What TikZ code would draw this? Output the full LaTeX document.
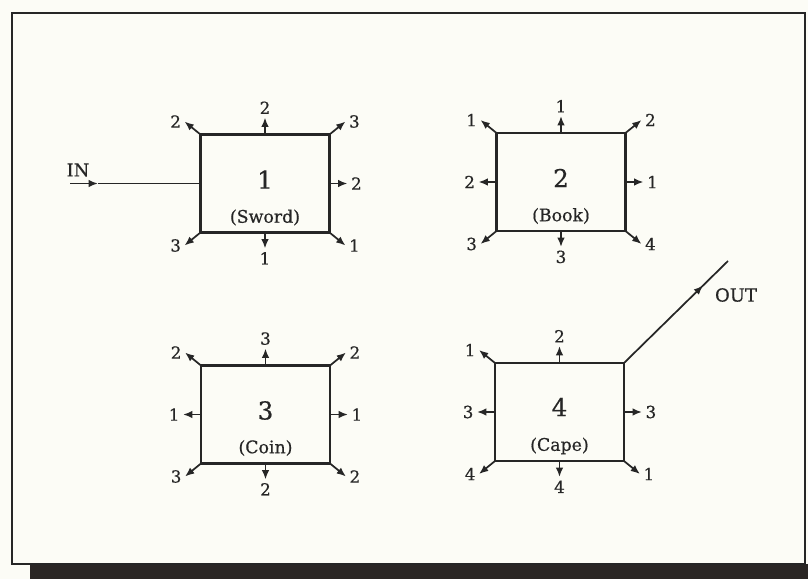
\documentclass[tikz,border=0pt]{standalone}
\usepackage{fontspec}
\setmainfont{DejaVu Serif}[FakeBold=0.6]
\usetikzlibrary{arrows.meta,calc,decorations.markings}
\definecolor{ink}{RGB}{38,38,38}
\definecolor{paper}{RGB}{252,252,246}
\definecolor{shadowcol}{RGB}{42,38,36}
\newcommand\stubarrow[6]{%
  \coordinate (#1#3) at ($(#1.#2)+(#4)$);
  \draw[stub] (#1.#2) -- (#1#3);
  \node[lbl,#5] (#1#3l) at (#1#3) {#6};}
\begin{document}
\begin{tikzpicture}[x=0.75pt,y=-0.75pt,
  box/.style={draw=ink,line width=1.6pt,minimum width=96.75pt,minimum height=73.5pt,inner sep=0pt,outer sep=0pt},
  stub/.style={draw=ink,line width=1.3pt,-{Latex[length=7pt,width=5.6pt]}},
  plain/.style={draw=ink,line width=1.3pt},
  lbl/.style={text=ink,font=\fontsize{12.5}{14}\selectfont,inner sep=2.5pt},
  bigdigit/.style={text=ink,font=\fontsize{18.5}{22}\selectfont},
  itemlbl/.style={text=ink,font=\fontsize{13}{15}\selectfont},
  io/.style={text=ink,font=\fontsize{13.5}{15}\selectfont}]
\useasboundingbox[fill=paper] (0,0) rectangle (808,579);
\fill[shadowcol] (30,564) rectangle (808,579);
\draw[ink,line width=2.2pt] (12,13) rectangle (805,564);

% boxes
\node[box] (b1) at (265,183.5) {};
\node[bigdigit] (d1) at (265,179.5) {1};
\node[itemlbl] (n1) at (265,217.5) {(Sword)};
\node[box] (b2) at (561,182) {};
\node[bigdigit] (d2) at (561,178) {2};
\node[itemlbl] (n2) at (561,216) {(Book)};
\node[box] (b3) at (265.5,414.5) {};
\node[bigdigit] (d3) at (265.5,410.5) {3};
\node[itemlbl] (n3) at (265.5,448) {(Coin)};
\node[box] (b4) at (559.5,412) {};
\node[bigdigit] (d4) at (559.5,407) {4};
\node[itemlbl] (n4) at (559.5,446) {(Cape)};

% box 1 exits
\stubarrow{b1}{north west}{nw}{-16,-13}{left}{2}
\stubarrow{b1}{north}{n}{0,-17}{above}{2}
\stubarrow{b1}{north east}{ne}{16,-13}{right}{3}
\stubarrow{b1}{east}{e}{18,0}{right}{2}
\stubarrow{b1}{south west}{sw}{-16,13}{left}{3}
\stubarrow{b1}{south}{s}{0,16}{below}{1}
\stubarrow{b1}{south east}{se}{16,13}{right}{1}
% box 2 exits
\stubarrow{b2}{north west}{nw}{-16,-13}{left}{1}
\stubarrow{b2}{north}{n}{0,-17}{above}{1}
\stubarrow{b2}{north east}{ne}{16,-13}{right}{2}
\stubarrow{b2}{west}{w}{-18,0}{left}{2}
\stubarrow{b2}{east}{e}{18,0}{right}{1}
\stubarrow{b2}{south west}{sw}{-16,13}{left}{3}
\stubarrow{b2}{south}{s}{0,16}{below}{3}
\stubarrow{b2}{south east}{se}{16,13}{right}{4}
% box 3 exits
\stubarrow{b3}{north west}{nw}{-16,-13}{left}{2}
\stubarrow{b3}{north}{n}{0,-17}{above}{3}
\stubarrow{b3}{north east}{ne}{16,-13}{right}{2}
\stubarrow{b3}{west}{w}{-18,0}{left}{1}
\stubarrow{b3}{east}{e}{18,0}{right}{1}
\stubarrow{b3}{south west}{sw}{-16,13}{left}{3}
\stubarrow{b3}{south}{s}{0,16}{below}{2}
\stubarrow{b3}{south east}{se}{16,13}{right}{2}
% box 4 exits
\stubarrow{b4}{north west}{nw}{-16,-13}{left}{1}
\stubarrow{b4}{north}{n}{0,-17}{above}{2}
\stubarrow{b4}{west}{w}{-18,0}{left}{3}
\stubarrow{b4}{east}{e}{18,0}{right}{3}
\stubarrow{b4}{south west}{sw}{-16,13}{left}{4}
\stubarrow{b4}{south}{s}{0,16}{below}{4}
\stubarrow{b4}{south east}{se}{16,13}{right}{1}

% IN
\coordinate (inS) at (70,183.5);
\coordinate (inA) at (98,183.5);
\draw[stub] (inS) -- (inA);
\draw[plain] (inA) -- (b1.west);
\node[io] (inL) at (78,170) {IN};

% OUT
\coordinate (outE) at (728,261);
\draw[plain,postaction={decorate},decoration={markings,mark=at position 0.76 with {\arrow{Latex[length=7pt,width=5.6pt]}}}] (b4.north east) -- (outE);
\node[io] (outL) at (736,295) {OUT};
\end{tikzpicture}
\end{document}
